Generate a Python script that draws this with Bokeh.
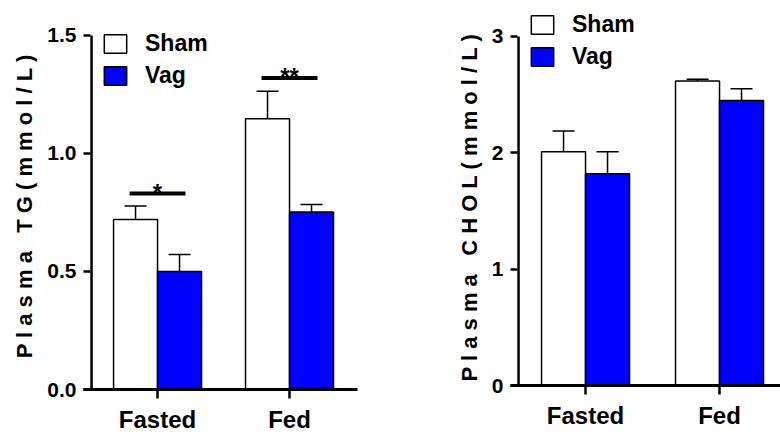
from bokeh.plotting import figure
from bokeh.layouts import row
from bokeh.models import FixedTicker, Legend, LegendItem, Range1d, NumeralTickFormatter
from bokeh.core.properties import value
from bokeh.embed import file_html
from bokeh.resources import INLINE

# ---- data ---------------------------------------------------------------
categories = ["Fasted", "Fed"]
series = ["Sham", "Vag"]

tg_sham = [0.72, 1.147]
tg_sham_sem = [0.057, 0.116]
tg_vag = [0.50, 0.752]
tg_vag_sem = [0.072, 0.032]

chol_sham = [2.01, 2.617]
chol_sham_sem = [0.178, 0.015]
chol_vag = [1.82, 2.45]
chol_vag_sem = [0.19, 0.10]

tg_ticks = [0.0, 0.5, 1.0, 1.5]
chol_ticks = [0, 1, 2, 3]

tg_sig_labels = ["*", "**"]
tg_sig_height = [0.83, 1.32]

# ---- style --------------------------------------------------------------
FONT = "Liberation Sans"
BLUE = "#0000ff"
BLACK = "#000000"
NBSP = "\u00a0"


def spaced(title, tail):
    """Letter-spaced axis title; trailing blanks centre it on the value axis."""
    return (" " + NBSP + " ").join(" ".join(w) for w in title.split(" ")) + NBSP * tail


def bar_panel(width, height, borders, x_lim, y_top, bar_w, ticks, tick_fmt,
              title, tail, sham, sham_sem, vag, vag_sem, legend_xy, x_standoff):
    left, right, top, bottom = borders
    p = figure(width=width, height=height,
               x_range=Range1d(*x_lim), y_range=Range1d(0, y_top),
               output_backend="svg", toolbar_location=None, frame_align=False,
               min_border_left=left, min_border_right=right,
               min_border_top=top, min_border_bottom=bottom)
    p.outline_line_color = None
    p.grid.visible = False

    pos = [i + 1 for i in range(len(categories))]
    x_sham = [c - bar_w / 2 for c in pos]
    x_vag = [c + bar_w / 2 for c in pos]

    # error bars (upper only): stem + cap
    for xs, m, e in ((x_sham, sham, sham_sem), (x_vag, vag, vag_sem)):
        tops = [a + b for a, b in zip(m, e)]
        p.segment(x0=xs, y0=m, x1=xs, y1=tops, line_color=BLACK, line_width=1.5)
        p.segment(x0=[x - bar_w / 4 for x in xs], y0=tops,
                  x1=[x + bar_w / 4 for x in xs], y1=tops,
                  line_color=BLACK, line_width=1.5)

    r_sham = p.vbar(x=x_sham, top=sham, bottom=0, width=bar_w,
                    fill_color="white", line_color=BLACK, line_width=1.5)
    r_vag = p.vbar(x=x_vag, top=vag, bottom=0, width=bar_w,
                   fill_color=BLUE, line_color=BLACK, line_width=1.5)

    # y axis spine drawn as a segment so the x axis can run past it
    p.segment(x0=[0.5], y0=[0], x1=[0.5], y1=[ticks[-1]],
              line_color=BLACK, line_width=2.5)

    yax = p.yaxis[0]
    yax.ticker = FixedTicker(ticks=ticks)
    yax.formatter = NumeralTickFormatter(format=tick_fmt)
    yax.axis_line_color = None
    yax.major_tick_in = 7
    yax.major_tick_out = 0
    yax.major_tick_line_width = 2.5
    yax.minor_tick_line_color = None
    yax.major_label_standoff = 7
    yax.major_label_text_font = FONT
    yax.major_label_text_font_style = "bold"
    yax.major_label_text_font_size = "21px"
    yax.major_label_text_color = BLACK
    yax.axis_label = spaced(title, tail)
    yax.axis_label_text_font = FONT
    yax.axis_label_text_font_style = "bold"
    yax.axis_label_text_font_size = "22px"
    yax.axis_label_text_color = BLACK
    yax.axis_label_standoff = 7

    xax = p.xaxis[0]
    xax.ticker = FixedTicker(ticks=pos)
    xax.major_label_overrides = {c: lab for c, lab in zip(pos, categories)}
    xax.axis_line_width = 3
    xax.axis_line_color = BLACK
    xax.major_tick_in = 0
    xax.major_tick_out = 9
    xax.major_tick_line_width = 2.5
    xax.minor_tick_line_color = None
    xax.major_label_standoff = x_standoff
    xax.major_label_text_font = FONT
    xax.major_label_text_font_style = "bold"
    xax.major_label_text_font_size = "24px"
    xax.major_label_text_color = BLACK

    legend = Legend(
        items=[LegendItem(label=series[0], renderers=[r_sham]),
               LegendItem(label=series[1], renderers=[r_vag])],
        location=legend_xy, orientation="vertical",
        glyph_width=28, glyph_height=23, label_standoff=16, spacing=5,
        padding=0, margin=0, border_line_color=None, background_fill_alpha=0,
        label_text_font=FONT, label_text_font_style="bold",
        label_text_font_size="23px", label_height=23, label_text_color=BLACK)
    p.add_layout(legend)
    return p, pos


# ---- left: triglycerides ------------------------------------------------
tg_plot, tg_pos = bar_panel(
    430, 435, (83, 73, 4, 46), (0.439, 2.515), 1.631, 1 / 3,
    tg_ticks, "0.0", "Plasma TG(mmol/L)", 3,
    tg_sham, tg_sham_sem, tg_vag, tg_vag_sem, (18, 300), 7)

# significance markers
tg_plot.text(x=tg_pos, y=[h + 0.004 for h in tg_sig_height], text=tg_sig_labels,
             text_font=value(FONT), text_font_style="bold", text_font_size="24px",
             text_align="center", text_baseline="alphabetic", text_color=BLACK)
tg_plot.segment(x0=[c - 0.212 for c in tg_pos], y0=tg_sig_height,
                x1=[c + 0.212 for c in tg_pos], y1=tg_sig_height,
                line_color=BLACK, line_width=4)

# ---- right: cholesterol -------------------------------------------------
chol_plot, _ = bar_panel(
    350, 435, (80, 0, 4, 50), (0.44, 2.455), 3.275, 44 / 134,
    chol_ticks, "0", "Plasma CHOL(mmol/L)", 4,
    chol_sham, chol_sham_sem, chol_vag, chol_vag_sem, (18, 315), 7)

layout = row(tg_plot, chol_plot, spacing=0)

open("out.html", "w").write(file_html(layout, INLINE))
